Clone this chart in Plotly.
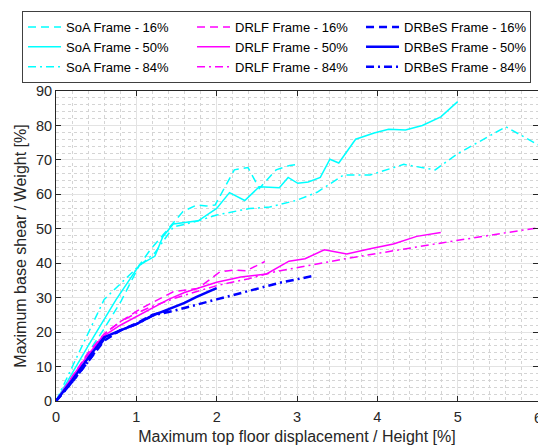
import plotly.graph_objects as go

# Pushover capacity curves: drift ratio [%] vs base shear / weight [%]
soa_16_x = [0, 0.2, 0.4, 0.6, 0.81, 1.04, 1.17, 1.33, 1.58, 1.75, 1.87, 1.98, 2.22, 2.39, 2.53, 2.74, 2.91, 3.0]
soa_16_y = [0, 6.5, 14, 21, 29, 39.5, 43.8, 48.2, 55, 56.9, 56.6, 56.9, 67.1, 67.8, 61.7, 67.1, 68.4, 68.7]

soa_50_x = [0, 0.2, 0.4, 0.75, 1.04, 1.23, 1.33, 1.46, 1.77, 2.0, 2.16, 2.35, 2.53, 2.78, 2.89, 3.01, 3.14, 3.29,
            3.41, 3.52, 3.73, 3.96, 4.14, 4.35, 4.56, 4.79, 5.0]
soa_50_y = [0, 8, 16, 29.5, 39.5, 42, 47.7, 51.4, 52.3, 55.9, 60.5, 58.2, 62.2, 61.9, 64.9, 63.2, 63.6, 64.9,
            70.2, 69.1, 76.0, 77.8, 78.9, 78.7, 80.0, 82.5, 86.9]

soa_84_x = [0, 0.3, 0.6, 0.8, 1.0, 1.23, 1.46, 1.77, 2.0, 2.41, 2.66, 3.0, 3.25, 3.58, 3.91, 4.33, 4.72, 5.0, 5.6, 6.0]
soa_84_y = [0, 15, 29.5, 34, 38.5, 43, 50.5, 52.3, 54, 55.9, 56.3, 58.3, 60.6, 65.6, 65.6, 68.7, 67.1, 71.8, 79.6, 74.4]

drlf_16_x = [0, 0.2, 0.4, 0.6, 0.8, 1.0, 1.15, 1.46, 1.77, 2.04, 2.2, 2.37, 2.6]
drlf_16_y = [0, 7, 14, 19.5, 23, 26, 28, 31.7, 32.7, 37.5, 38, 37.8, 40.5]

drlf_50_x = [0, 0.2, 0.4, 0.6, 0.8, 1.0, 1.2, 1.4, 1.6, 1.8, 2.0, 2.3, 2.62, 2.9, 3.1, 3.34, 3.62, 3.91, 4.2,
             4.49, 4.79]
drlf_50_y = [0, 7, 13.5, 19, 22, 24.5, 27, 29.5, 31.5, 33, 34.5, 36, 36.9, 40.6, 41.3, 43.9, 42.7, 44.2, 45.6,
             47.8, 48.9]

drlf_84_x = [0, 0.2, 0.4, 0.6, 0.8, 1.0, 1.2, 1.5, 2.0, 2.4, 2.7, 3.6, 4.8, 6.0]
drlf_84_y = [0, 6.5, 13, 19.5, 23, 25.5, 27.5, 30, 33.5, 35.5, 37.4, 41.3, 45.9, 50.3]

drbes_16_x = [0, 0.2, 0.4, 0.6, 0.8, 1.0, 1.2, 1.4]
drbes_16_y = [0, 5.5, 11.5, 17.5, 20.5, 22.5, 25, 26.3]

drbes_50_x = [0, 0.2, 0.4, 0.6, 0.8, 1.0, 1.2, 1.45, 1.6, 1.75, 2.0]
drbes_50_y = [0, 6, 12.5, 18.5, 20.5, 22.3, 24.8, 27, 28.5, 30.2, 32.8]

drbes_84_x = [0, 0.2, 0.4, 0.6, 0.8, 1.0, 1.2, 1.5, 2.0, 2.4, 2.8, 3.2]
drbes_84_y = [0, 5.5, 11.5, 18, 20.5, 22.3, 24.8, 26.4, 29.5, 32, 34.4, 36.3]

x_ticks = [0, 1, 2, 3, 4, 5, 6]
y_ticks = [0, 10, 20, 30, 40, 50, 60, 70, 80, 90]

CYAN, MAGENTA, BLUE = "#00FFFF", "#FF00FF", "#0000FF"
DASH = "8px,5px"
DASHDOT = "8px,4px,2px,4px"
FONT = "Liberation Sans, Arial, sans-serif"
INK = "#262626"

series = [
    # name, x, y, color, dash, width, legend rank
    ("SoA Frame - 16%", soa_16_x, soa_16_y, CYAN, DASH, 1.5, 1),
    ("SoA Frame - 50%", soa_50_x, soa_50_y, CYAN, "solid", 1.5, 4),
    ("SoA Frame - 84%", soa_84_x, soa_84_y, CYAN, DASHDOT, 1.5, 7),
    ("DRLF Frame - 16%", drlf_16_x, drlf_16_y, MAGENTA, DASH, 1.5, 2),
    ("DRLF Frame - 50%", drlf_50_x, drlf_50_y, MAGENTA, "solid", 1.5, 5),
    ("DRLF Frame - 84%", drlf_84_x, drlf_84_y, MAGENTA, DASHDOT, 1.5, 8),
    ("DRBeS Frame - 16%", drbes_16_x, drbes_16_y, BLUE, DASH, 2.5, 3),
    ("DRBeS Frame - 50%", drbes_50_x, drbes_50_y, BLUE, "solid", 2.5, 6),
    ("DRBeS Frame - 84%", drbes_84_x, drbes_84_y, BLUE, DASHDOT, 2.5, 9),
]

fig = go.Figure()
for name, xs, ys, color, dash, width, rank in series:
    fig.add_trace(go.Scatter(
        x=xs, y=ys, mode="lines", name=name, legendrank=rank,
        line=dict(color=color, dash=dash, width=width),
    ))

axis_common = dict(
    showline=True, linecolor=INK, linewidth=1, mirror="ticks",
    ticks="inside", ticklen=5, tickcolor=INK,
    showgrid=True, gridcolor="#E3E3E3", gridwidth=1,
    zeroline=False,
    tickfont=dict(family=FONT, size=14.5, color=INK),
)

fig.update_xaxes(
    range=[0, 6], tickvals=x_ticks, ticklabelstandoff=3,
    minor=dict(dtick=0.2, showgrid=True, gridcolor="#D4D4D4", griddash="dot", gridwidth=1),
    title=dict(text="Maximum top floor displacement / Height [%]", standoff=6,
               font=dict(family=FONT, size=16, color=INK)),
    **axis_common,
)
fig.update_yaxes(
    range=[0, 90], tickvals=y_ticks,
    minor=dict(dtick=2, showgrid=True, gridcolor="#D4D4D4", griddash="dot", gridwidth=1),
    title=dict(text="Maximum base shear / Weight [%]", standoff=5,
               font=dict(family=FONT, size=16, color=INK)),
    **axis_common,
)

# Last x tick label sits on the right edge of the page
fig.add_annotation(
    text="6", xref="paper", yref="paper", x=1.0, y=0, xanchor="center", yanchor="top",
    yshift=-7, showarrow=False, font=dict(family=FONT, size=14.5, color=INK),
)

fig.update_layout(
    width=538, height=447,
    margin=dict(l=56, r=0, t=91, b=46),
    paper_bgcolor="white", plot_bgcolor="white",
    showlegend=True,
    legend=dict(
        orientation="h", x=-0.0705, y=1.258, xanchor="left", yanchor="top",
        entrywidth=121, entrywidthmode="pixels", itemwidth=33,
        bgcolor="white", bordercolor="#404040", borderwidth=1,
        font=dict(family=FONT, size=13, color="#000000"),
        traceorder="normal",
    ),
)

fig.write_html("out.html")
